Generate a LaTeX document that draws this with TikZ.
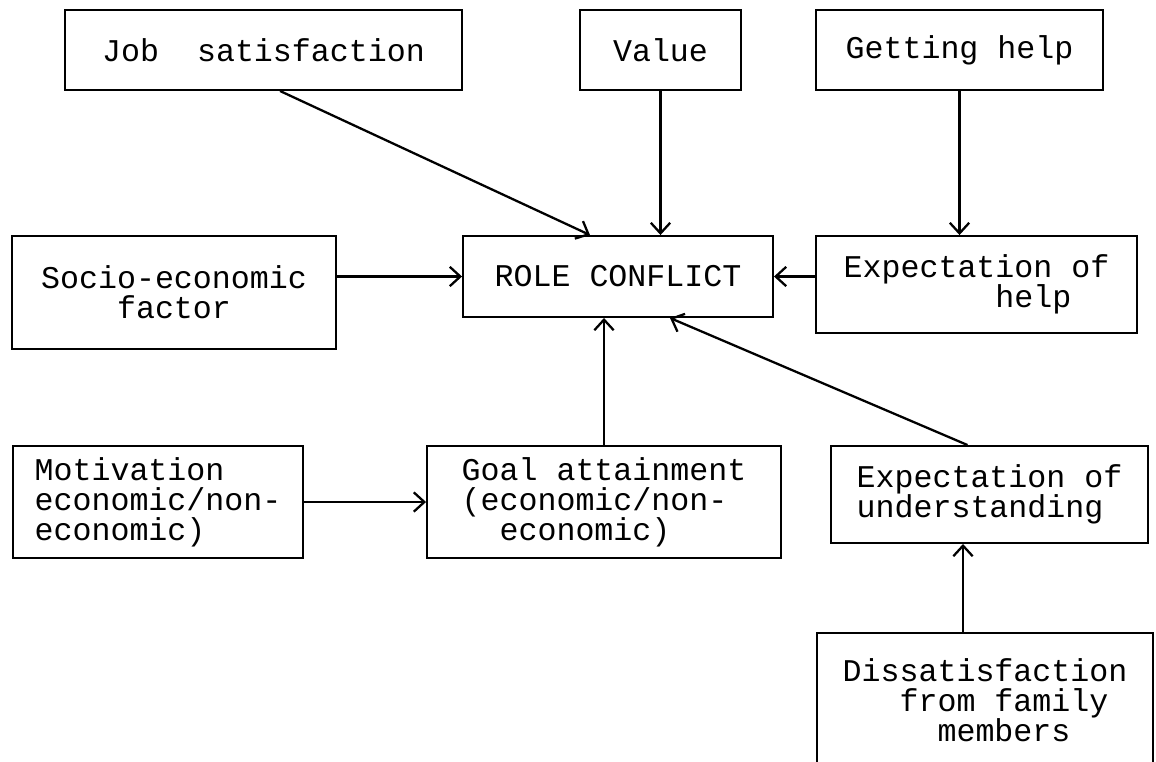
\documentclass[tikz,border=0pt]{standalone}
\usepackage{fontspec}
\setmonofont{Liberation Mono}
\usetikzlibrary{arrows.meta,calc}

\tikzset{
  box/.style={draw, line width=1.1pt, inner sep=0pt, align=left,
    font=\ttfamily\fontsize{18}{17}\selectfont},
  boxsize/.style 2 args={minimum width=#1*0.02cm, minimum height=#2*0.02cm},
  link/.style={line width=1.3pt, -{Straight Barb[length=6pt,width=11pt]}}
}

\begin{document}
\begin{tikzpicture}[x=0.02cm,y=-0.02cm]
        \useasboundingbox (0,0) rectangle (1156,761);
        \node[box, boxsize={397}{80}] (job) at (263.5,50) {Job\ \ satisfaction};
        \node[box, boxsize={161}{80}] (value) at (660.5,50) {Value};
        \node[box, boxsize={287}{80}] (gethelp) at (959.5,50) {Getting help};
        \node[box, boxsize={324}{113}, align=center] (socio) at (174,292.5) {Socio-economic\\factor};
        \node[box, boxsize={310}{81}] (role) at (618,276.5) {ROLE CONFLICT};
        \node[box, boxsize={321}{97}] (exphelp) at (976.5,284.5) {Expectation of\\\hspace*{4.8em}help};
        \node[box, boxsize={290}{112}] (motiv) at (158,502) {Motivation\\economic/non-\\economic)};
        \node[box, boxsize={354}{112}] (goal) at (604,502) {Goal attainment\\(economic/non-\\\hspace*{1.2em}economic)};
        \node[box, boxsize={317}{97}] (expund) at (989.5,494.5) {Expectation of\\understanding};
        \node[box, boxsize={336}{134}] (dissat) at (985,700) {Dissatisfaction\\\hspace*{1.8em}from family\\\hspace*{3em}members};

        \draw[link] ($(job.south)+(16.5,0)$) -- ($(role.north)+(-28,0)$);
        \draw[link] (value.south) -- (value.south |- role.north);
        \draw[link] (gethelp.south) -- (gethelp.south |- exphelp.north);
        \draw[link] (socio.east |- role.west) -- (role.west);
        \draw[link] (exphelp.west |- role.east) -- (role.east);
        \draw[link] (goal.north) -- (goal.north |- role.south);
        \draw[link] (motiv.east) -- (motiv.east -| goal.west);
        \draw[link] ($(expund.north)+(-22,0)$) -- ($(role.south)+(52,0)$);
        \coordinate (up) at ($(dissat.north)+(-22,0)$);
        \draw[link] (up) -- (up |- expund.south);
    \end{tikzpicture}
\end{document}
